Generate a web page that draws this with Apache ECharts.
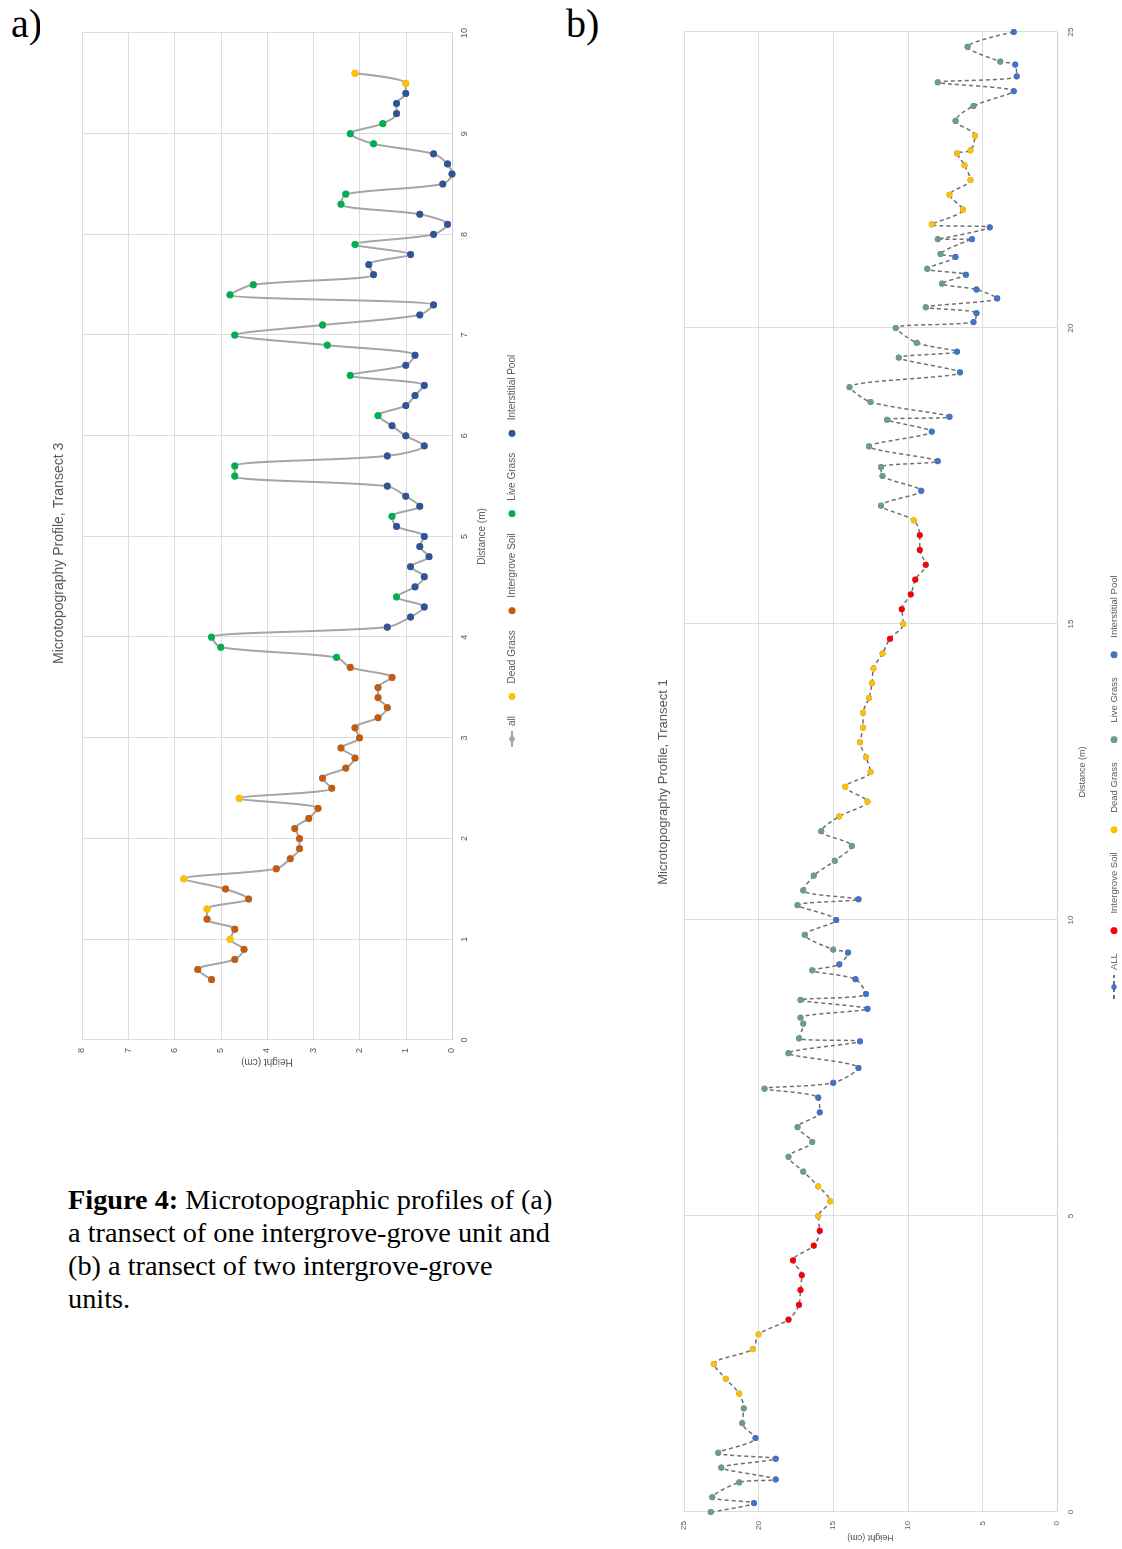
<!DOCTYPE html>
<html><head><meta charset="utf-8">
<script src="https://cdn.jsdelivr.net/npm/echarts@6/dist/echarts.min.js"></script>
<style>
html,body{margin:0;padding:0;background:#fff;width:1122px;height:1549px;overflow:hidden;position:relative;}
.rot{position:absolute;transform-origin:0 0;transform:rotate(-90deg);}
#chartA{left:40px;top:1080px;width:1070px;height:490px;}
#chartB{left:640px;top:1549px;width:1534px;height:482px;}
.lbl{position:absolute;font-family:"Liberation Serif","Times New Roman",serif;color:#000;white-space:nowrap;}
</style></head><body>
<div class="lbl" style="left:11px;top:4px;font-size:40px;line-height:1">a)</div>
<div class="lbl" style="left:566px;top:4px;font-size:40px;line-height:1">b)</div>
<div class="lbl" style="left:279px;top:8px;font-size:10px;color:#9a9a9a;font-family:'Liberation Sans',sans-serif">–</div>
<div class="lbl" style="left:68px;top:1183px;font-size:28.3px;line-height:33px"><b>Figure 4:</b> Microtopographic profiles of (a)<br>a transect of one intergrove-grove unit and<br>(b) a transect of two intergrove-grove<br>units.</div>
<div id="chartA" class="rot"></div>
<div id="chartB" class="rot"></div>
<script>
// ---------- Chart a) Transect 3 ----------
const titleA = 'Microtopography Profile, Transect 3';
const distA = [0.6,0.7,0.8,0.9,1.0,1.1,1.2,1.3,1.4,1.5,1.6,1.7,1.8,1.9,2.0,2.1,2.2,2.3,2.4,2.5,2.6,2.7,2.8,2.9,3.0,3.1,3.2,3.3,3.4,3.5,3.6,3.7,3.8,3.9,4.0,4.1,4.2,4.3,4.4,4.5,4.6,4.7,4.8,4.9,5.0,5.1,5.2,5.3,5.4,5.5,5.6,5.7,5.8,5.9,6.0,6.1,6.2,6.3,6.4,6.5,6.6,6.7,6.8,6.9,7.0,7.1,7.2,7.3,7.4,7.5,7.6,7.7,7.8,7.9,8.0,8.1,8.2,8.3,8.4,8.5,8.6,8.7,8.8,8.9,9.0,9.1,9.2,9.3,9.4,9.5,9.6];
const heightA = [5.2,5.5,4.7,4.5,4.8,4.7,5.3,5.3,4.4,4.9,
  5.8,3.8,3.5,3.3,3.3,3.4,3.1,2.9,4.6,2.6,
  2.8,2.3,2.1,2.4,2.0,2.1,1.6,1.4,1.6,1.6,
  1.3,2.2,2.5,5.0,5.2,1.4,0.9,0.6,1.2,0.8,
  0.6,0.9,0.5,0.7,0.6,1.2,1.3,0.7,1.0,1.4,
  4.7,4.7,1.4,0.6,1.0,1.3,1.6,1.0,0.8,0.6,
  2.2,1.0,0.8,2.7,4.7,2.8,0.7,0.4,4.8,4.3,
  1.7,1.8,0.9,2.1,0.4,0.1,0.7,2.4,2.3,0.2,
  0.0,0.1,0.4,1.7,2.2,1.5,1.2,1.2,1.0,1.0,
  2.1];
// D = Dead Grass, S = Intergrove Soil, L = Live Grass, P = Interstitial Pool
const classA = ['S','S','S','S','D','S','S','D','S','S',
  'D','S','S','S','S','S','S','S','D','S',
  'S','S','S','S','S','S','S','S','S','S',
  'S','S','L','L','L','P','P','P','L','P',
  'P','P','P','P','P','P','L','P','P','P',
  'L','L','P','P','P','P','L','P','P','P',
  'L','P','P','L','L','L','P','P','L','L',
  'P','P','P','L','P','P','P','L','L','P',
  'P','P','P','L','L','L','P','P','P','D',
  'D'];
const legendA = ['all','Dead Grass','Intergrove Soil','Live Grass','Interstitial Pool'];

// ---------- Chart b) Transect 1 ----------
const titleB = 'Microtopography Profile, Transect 1';
const distB = [0,0.15,0.25,0.5,0.55,0.75,0.9,1.0,1.25,1.5,1.75,2.0,2.25,2.5,2.75,3.0,3.25,3.5,3.75,4.0,4.25,4.5,4.75,5.0,5.25,5.5,5.75,6.0,6.25,6.5,6.75,7.0,7.15,7.25,7.5,7.75,7.95,8.0,8.25,8.35,8.5,8.65,8.75,9.0,9.15,9.25,9.45,9.5,9.75,10.0,10.25,10.35,10.5,10.75,11.0,11.25,11.5,11.75,12.0,12.25,12.5,12.75,13.0,13.25,13.5,13.75,14.0,14.25,14.5,14.75,15.0,15.25,15.5,15.75,16.0,16.25,16.5,16.75,17.0,17.25,17.5,17.65,17.75,18.0,18.25,18.45,18.5,18.75,19.0,19.25,19.5,19.6,19.75,20.0,20.1,20.25,20.35,20.5,20.65,20.75,20.9,21.0,21.2,21.25,21.5,21.5,21.7,21.75,22.0,22.25,22.5,22.75,22.95,23.0,23.25,23.5,23.75,24.0,24.15,24.25,24.45,24.5,24.75,25.0];
const heightB = [23.2,20.3,23.1,21.3,18.85,22.5,18.85,22.7,20.2,21.1,21.0,21.3,22.2,23.0,20.4,20.0,18.0,17.3,17.2,17.1,17.7,16.3,15.9,16.0,15.2,16.0,17.0,18.0,16.4,17.4,15.9,16.0,19.6,15.0,13.3,18.0,13.2,17.3,17.0,17.2,12.7,17.2,12.8,13.5,16.4,14.6,14.0,15.0,16.9,14.8,17.4,13.3,17.0,16.3,14.9,13.75,15.8,14.6,12.7,14.2,12.5,12.8,13.2,13.0,13.0,12.6,12.4,12.3,11.7,11.2,10.3,10.4,9.8,9.5,8.8,9.2,9.2,9.6,11.8,9.1,11.7,11.8,8.0,12.6,8.4,11.4,7.2,12.5,13.9,6.5,10.6,6.7,9.4,10.8,5.6,5.4,8.8,4.0,5.4,7.7,6.1,8.7,6.8,7.8,5.7,8.0,4.5,8.4,6.3,7.2,5.8,6.2,6.7,5.8,5.5,6.8,5.6,2.9,8.0,2.7,2.8,3.8,6.0,2.9];
const classB = ['L','P','L','L','P','L','P','L','P','L','L','D','D','D','D','D','S','S','S','S','S','S','S','D','D','D','L','L','L','L','P','P','L','P','P','L','P','L','L','L','P','L','P','P','L','P','P','L','L','P','L','P','L','L','L','L','L','D','D','D','D','D','D','D','D','D','D','D','D','S','D','S','S','S','S','S','S','D','L','P','L','L','P','L','P','L','P','L','L','P','L','P','L','L','P','P','L','P','P','L','P','L','P','L','P','L','P','D','D','D','D','D','D','D','D','L','L','P','L','P','P','L','L','P'];
const legendB = ['ALL','Intergrove Soil','Dead Grass','Live Grass','Interstitial Pool'];

const classNames = {D:'Dead Grass', S:'Intergrove Soil', L:'Live Grass', P:'Interstitial Pool'};

function build(el, cfg){
  const chart = echarts.init(document.getElementById(el), null, {renderer:'canvas'});
  const lineData = cfg.dist.map((d,i)=>[d, cfg.height[i]]);
  const series = [{
    name: cfg.allName, type:'line', data: lineData, smooth: cfg.smooth,
    symbol:'circle', symbolSize: cfg.sym, showSymbol:true,
    lineStyle:{color: cfg.lineColor, width: cfg.lineWidth, type: cfg.lineType},
    itemStyle:{color: cfg.allMarker, borderWidth:0},
    z:2, animation:false
  }];
  ['D','S','L','P'].forEach(k=>{
    const pts = [];
    cfg.cls.forEach((c,i)=>{ if(c===k) pts.push([cfg.dist[i], cfg.height[i]]); });
    series.push({name: classNames[k], type:'scatter', data: pts, symbol:'circle',
      symbolSize: cfg.sym, itemStyle:{color: cfg.colors[k], opacity:1}, z:3, animation:false});
  });
  const font = '"Liberation Sans", Arial, sans-serif';
  chart.setOption({
    animation:false,
    backgroundColor:'#fff',
    title:{text: cfg.title, left: cfg.titleLeft, top: cfg.titleTop, padding:0,
      textStyle:{fontSize: cfg.titleSize, fontWeight:'normal', color:'#595959', fontFamily: font}},
    legend:{data: cfg.legend, left: cfg.legendLeft, top: cfg.legendTop, padding:0,
      itemWidth: cfg.legendItemW, itemHeight: 7, itemGap: cfg.legendGap,
      textStyle:{fontSize: cfg.legendSize, color:'#595959', fontFamily: font}},
    grid:{left: cfg.grid[0], right: cfg.grid[1], top: cfg.grid[2], bottom: cfg.grid[3], containLabel:false, outerBoundsMode:'none'},
    xAxis:{type:'value', min:0, max: cfg.xMax, interval: cfg.xInt,
      name:'Distance (m)', nameLocation:'middle', nameGap: cfg.xNameGap, nameMoveOverlap:false,
      nameTextStyle:{fontSize: cfg.nameSize, color:'#595959', fontFamily: font},
      axisLine:{show:true, lineStyle:{color:'#D0D0D0', width:1}},
      axisTick:{show:false},
      axisLabel:{fontSize: cfg.tickSize, color:'#595959', margin: cfg.xLabelMargin, fontFamily: font},
      splitLine:{show:true, lineStyle:{color:'#DCDCDC', width:1}}},
    yAxis:{type:'value', min:0, max: cfg.yMax, interval: cfg.yInt,
      name:'Height (cm)', nameLocation:'middle', nameGap: cfg.yNameGap, nameRotate:90, nameMoveOverlap:false,
      nameTextStyle:{fontSize: cfg.nameSize, color:'#595959', fontFamily: font},
      axisLine:{show:false}, axisTick:{show:false},
      axisLabel:{fontSize: cfg.tickSize, color:'#595959', margin: cfg.yLabelMargin, fontFamily: font},
      splitLine:{show:true, lineStyle:{color:'#DCDCDC', width:1}}},
    series: series
  });
}

build('chartA', {
  dist: distA, height: heightA, cls: classA, title: titleA, legend: legendA, allName:'all',
  smooth:0.3, sym:7, lineColor:'#A5A5A5', lineWidth:2, lineType:'solid', allMarker:'#A5A5A5',
  colors:{D:'#FFC000', S:'#C55A11', L:'#00B050', P:'#2F5597'},
  titleLeft:416, titleTop:12, titleSize:14,
  legendLeft:332, legendTop:467, legendItemW:16, legendGap:16, legendSize:10,
  grid:[40,23,42,78], xMax:10, xInt:1, yMax:8, yInt:1,
  xNameGap:25, yNameGap:17, nameSize:10, tickSize:9, xLabelMargin:8, yLabelMargin:8
});

build('chartB', {
  dist: distB, height: heightB, cls: classB, title: titleB, legend: legendB, allName:'ALL',
  smooth:0.3, sym:6, lineColor:'#707070', lineWidth:1.5, lineType:[4,3], allMarker:'#4472C4',
  colors:{D:'#FFC000', S:'#FF0000', L:'#6E9C86', P:'#4472C4'},
  titleLeft:'center', titleTop:17, titleSize:13,
  legendLeft:549, legendTop:469, legendItemW:24, legendGap:19, legendSize:9.5,
  grid:[37,17,44,65], xMax:25, xInt:5, yMax:25, yInt:5,
  xNameGap:21, yNameGap:21, nameSize:9, tickSize:8, xLabelMargin:10, yLabelMargin:9
});
</script>
</body></html>
